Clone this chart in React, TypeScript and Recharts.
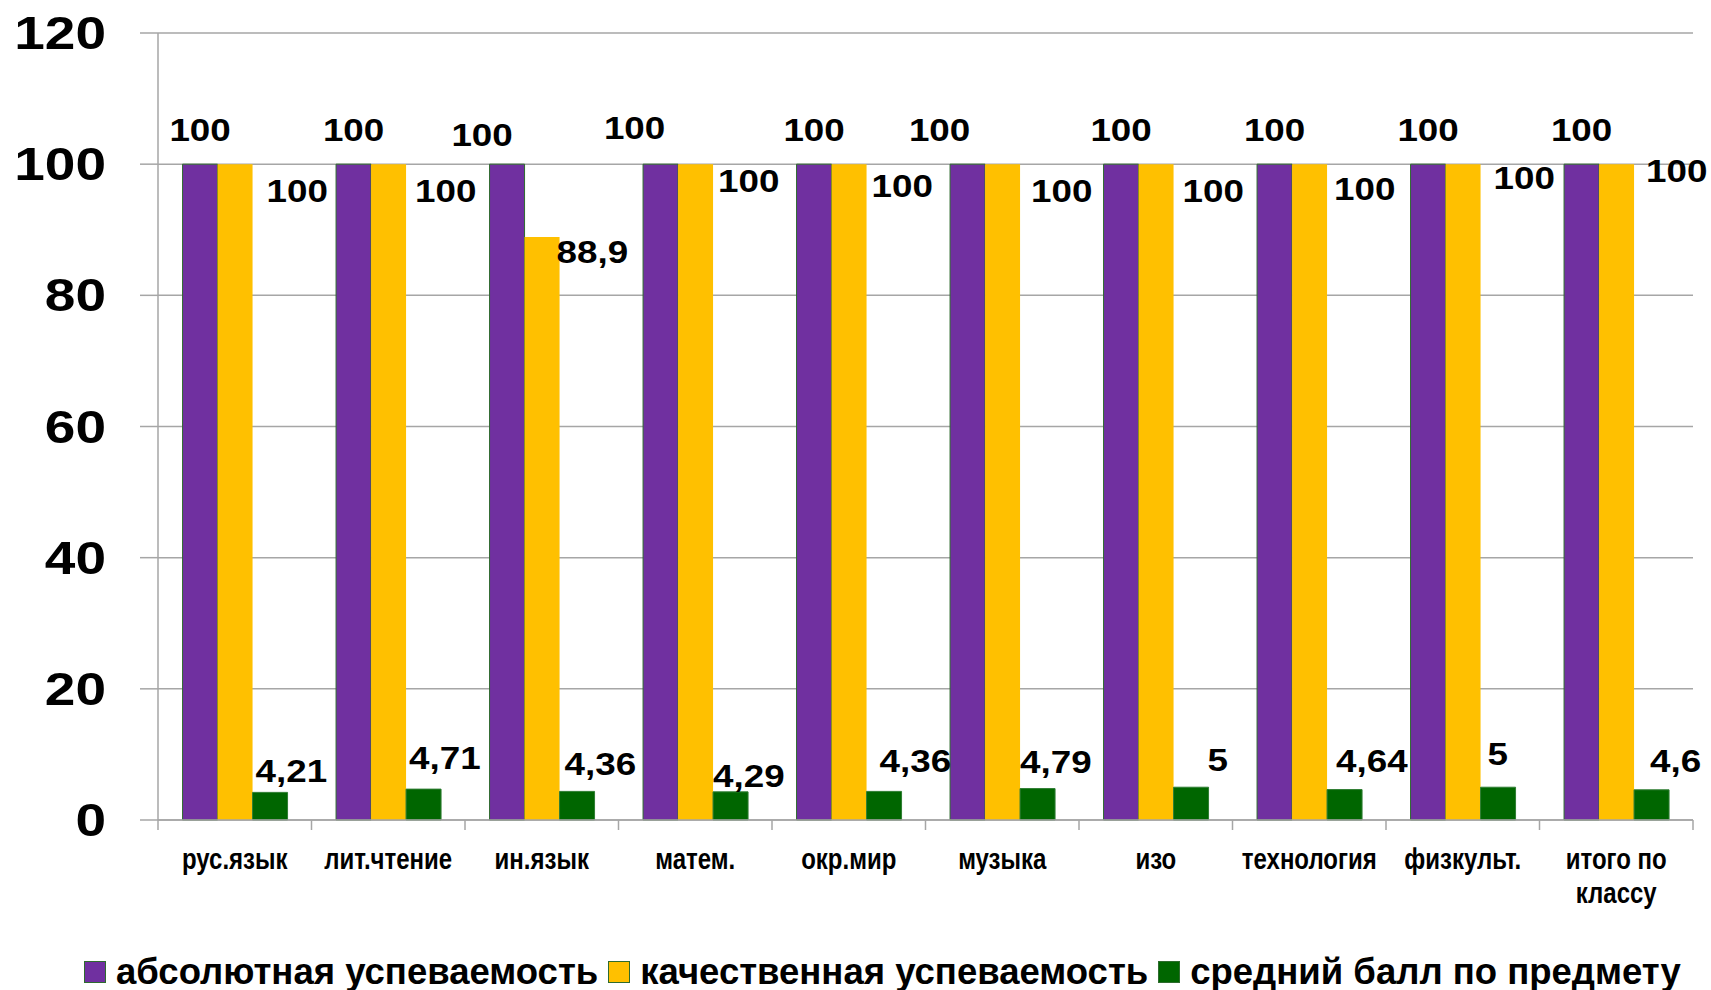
import React from "react";
import {
  BarChart,
  Bar,
  XAxis,
  YAxis,
  CartesianGrid,
  Legend,
  LabelList,
} from "recharts";

const categories = [
  "рус.язык",
  "лит.чтение",
  "ин.язык",
  "матем.",
  "окр.мир",
  "музыка",
  "изо",
  "технология",
  "физкульт.",
  "итого по классу",
];
const absoluteValues = [100, 100, 100, 100, 100, 100, 100, 100, 100, 100];
const qualityValues = [100, 100, 88.9, 100, 100, 100, 100, 100, 100, 100];
const averageValues = [4.21, 4.71, 4.36, 4.29, 4.36, 4.79, 5, 4.64, 5, 4.6];
const yTicks = [0, 20, 40, 60, 80, 100, 120];

const SERIES = [
  { key: "abs", name: "абсолютная успеваемость", color: "#7030A0" },
  { key: "qual", name: "качественная успеваемость", color: "#FFC000" },
  { key: "avg", name: "средний балл по предмету", color: "#006600" },
];

// hand-placed label nudges (the source labels were dragged around)
const absNudge = [[0, 0], [0, 0], [-25, 5], [-26, -2], [0, 0], [-28, 0], [0, 0], [0, 0], [0, 0], [0, 0]];
const qualNudge = [[14, 0], [9, 0], [-3, -12], [5, -10], [5, -5], [11, 0], [9, 0], [7, -2], [13, -13], [12, -20]];
const avgNudge = [[3, -22], [3, -31], [5, -28], [0, -16], [13, -31], [0, -27], [34, -27], [9, -29], [7, -33], [16, -29]];

const W = 1711;
const H = 990;
const M = { top: 33, right: 18, left: 0, bottom: 0 };
const Y_W = 158;
const BAND = (W - Y_W - M.right) / categories.length;

const FONT = "'Liberation Sans', Arial, sans-serif";
const GRID = "#a6a6a6";

const data = categories.map((name, i) => ({
  name,
  abs: absoluteValues[i],
  qual: qualityValues[i],
  avg: averageValues[i],
}));

const fmt = (v: number) => String(v).replace(".", ",");

// bold text stretched/squeezed horizontally like the original picture
const Stretch = ({ x, y, sx, size, anchor, children }: any) => (
  <text
    transform={`translate(${x},${y}) scale(${sx},1)`}
    textAnchor={anchor}
    dominantBaseline="central"
    style={{ fontFamily: FONT, fontWeight: 700, fontSize: size, fill: "#000" }}
  >
    {children}
  </text>
);

const makeLabel = (kind: "abs" | "qual" | "avg") => (props: any) => {
  const { x, y, width, value, index } = props;
  const bx = Number(x);
  const by = Number(y);
  const bw = Number(width);
  let tx = bx + bw / 2;
  let ty = by - 34;
  let anchor = "middle";
  let n = absNudge[index] || [0, 0];
  if (kind === "qual") {
    tx = bx + bw;
    ty = by + 27;
    anchor = "start";
    n = qualNudge[index] || [0, 0];
  } else if (kind === "avg") {
    tx = bx;
    ty = by;
    anchor = "start";
    n = avgNudge[index] || [0, 0];
  }
  return (
    <Stretch x={tx + n[0]} y={ty + n[1]} sx={1.15} size={32} anchor={anchor}>
      {fmt(Number(value))}
    </Stretch>
  );
};

const splitLabel = (s: string) => {
  if (s.length <= 11) return [s];
  const i = s.lastIndexOf(" ");
  return [s.slice(0, i), s.slice(i + 1)];
};

const XTick = (props: any) => {
  const { x, y, payload, index } = props;
  const lines = splitLabel(payload.value);
  const left = x - BAND / 2;
  return (
    <g>
      <line x1={left} x2={left} y1={y} y2={y + 10} stroke={GRID} strokeWidth={1.5} />
      {index === categories.length - 1 && (
        <line x1={left + BAND} x2={left + BAND} y1={y} y2={y + 10} stroke={GRID} strokeWidth={1.5} />
      )}
      {lines.map((l: string, i: number) => (
        <Stretch key={i} x={x} y={y + 39 + i * 34} sx={0.8} size={30} anchor="middle">
          {l}
        </Stretch>
      ))}
    </g>
  );
};

const YTick = (props: any) => {
  const { x, y, payload } = props;
  return (
    <Stretch x={x} y={y} sx={1.17} size={47} anchor="end">
      {payload.value}
    </Stretch>
  );
};

const LegendContent = () => (
  <div
    style={{
      height: 36,
      display: "flex",
      alignItems: "center",
      paddingLeft: 84,
      fontFamily: FONT,
      fontWeight: 700,
      fontSize: 36.5,
      color: "#000",
      whiteSpace: "nowrap",
    }}
  >
    {SERIES.map((s) => (
      <div key={s.key} style={{ display: "flex", alignItems: "center", marginRight: 10 }}>
        <span
          style={{
            display: "inline-block",
            width: 20,
            height: 20,
            background: s.color,
            border: "1px solid #2e6b2e",
            marginRight: 10,
          }}
        />
        <span>{s.name}</span>
      </div>
    ))}
  </div>
);

export default function App() {
  return (
    <div style={{ position: "absolute", left: 0, top: 0, width: W, height: H, background: "#fff" }}>
      <BarChart
        width={W}
        height={H}
        data={data}
        margin={M}
        barCategoryGap="16%"
        barGap={0}
      >
        <CartesianGrid vertical={false} stroke={GRID} strokeWidth={1.5} />
        <XAxis
          dataKey="name"
          interval={0}
          height={134}
          tickLine={false}
          tickSize={0}
          tickMargin={0}
          axisLine={{ stroke: GRID, strokeWidth: 1.5 }}
          tick={<XTick />}
        />
        <YAxis
          domain={[0, 120]}
          ticks={yTicks}
          width={Y_W}
          tickSize={18}
          tickMargin={34}
          tickLine={{ stroke: GRID, strokeWidth: 1.5 }}
          axisLine={{ stroke: GRID, strokeWidth: 1.5 }}
          tick={<YTick />}
        />
        <Legend verticalAlign="bottom" content={<LegendContent />} />
        <Bar dataKey="abs" name={SERIES[0].name} fill={SERIES[0].color} stroke="#2e6b2e" strokeWidth={1} isAnimationActive={false}>
          <LabelList dataKey="abs" content={makeLabel("abs")} />
        </Bar>
        <Bar dataKey="qual" name={SERIES[1].name} fill={SERIES[1].color} isAnimationActive={false}>
          <LabelList dataKey="qual" content={makeLabel("qual")} />
        </Bar>
        <Bar dataKey="avg" name={SERIES[2].name} fill={SERIES[2].color} stroke="#2e7d32" strokeWidth={1} isAnimationActive={false}>
          <LabelList dataKey="avg" content={makeLabel("avg")} />
        </Bar>
      </BarChart>
    </div>
  );
}
